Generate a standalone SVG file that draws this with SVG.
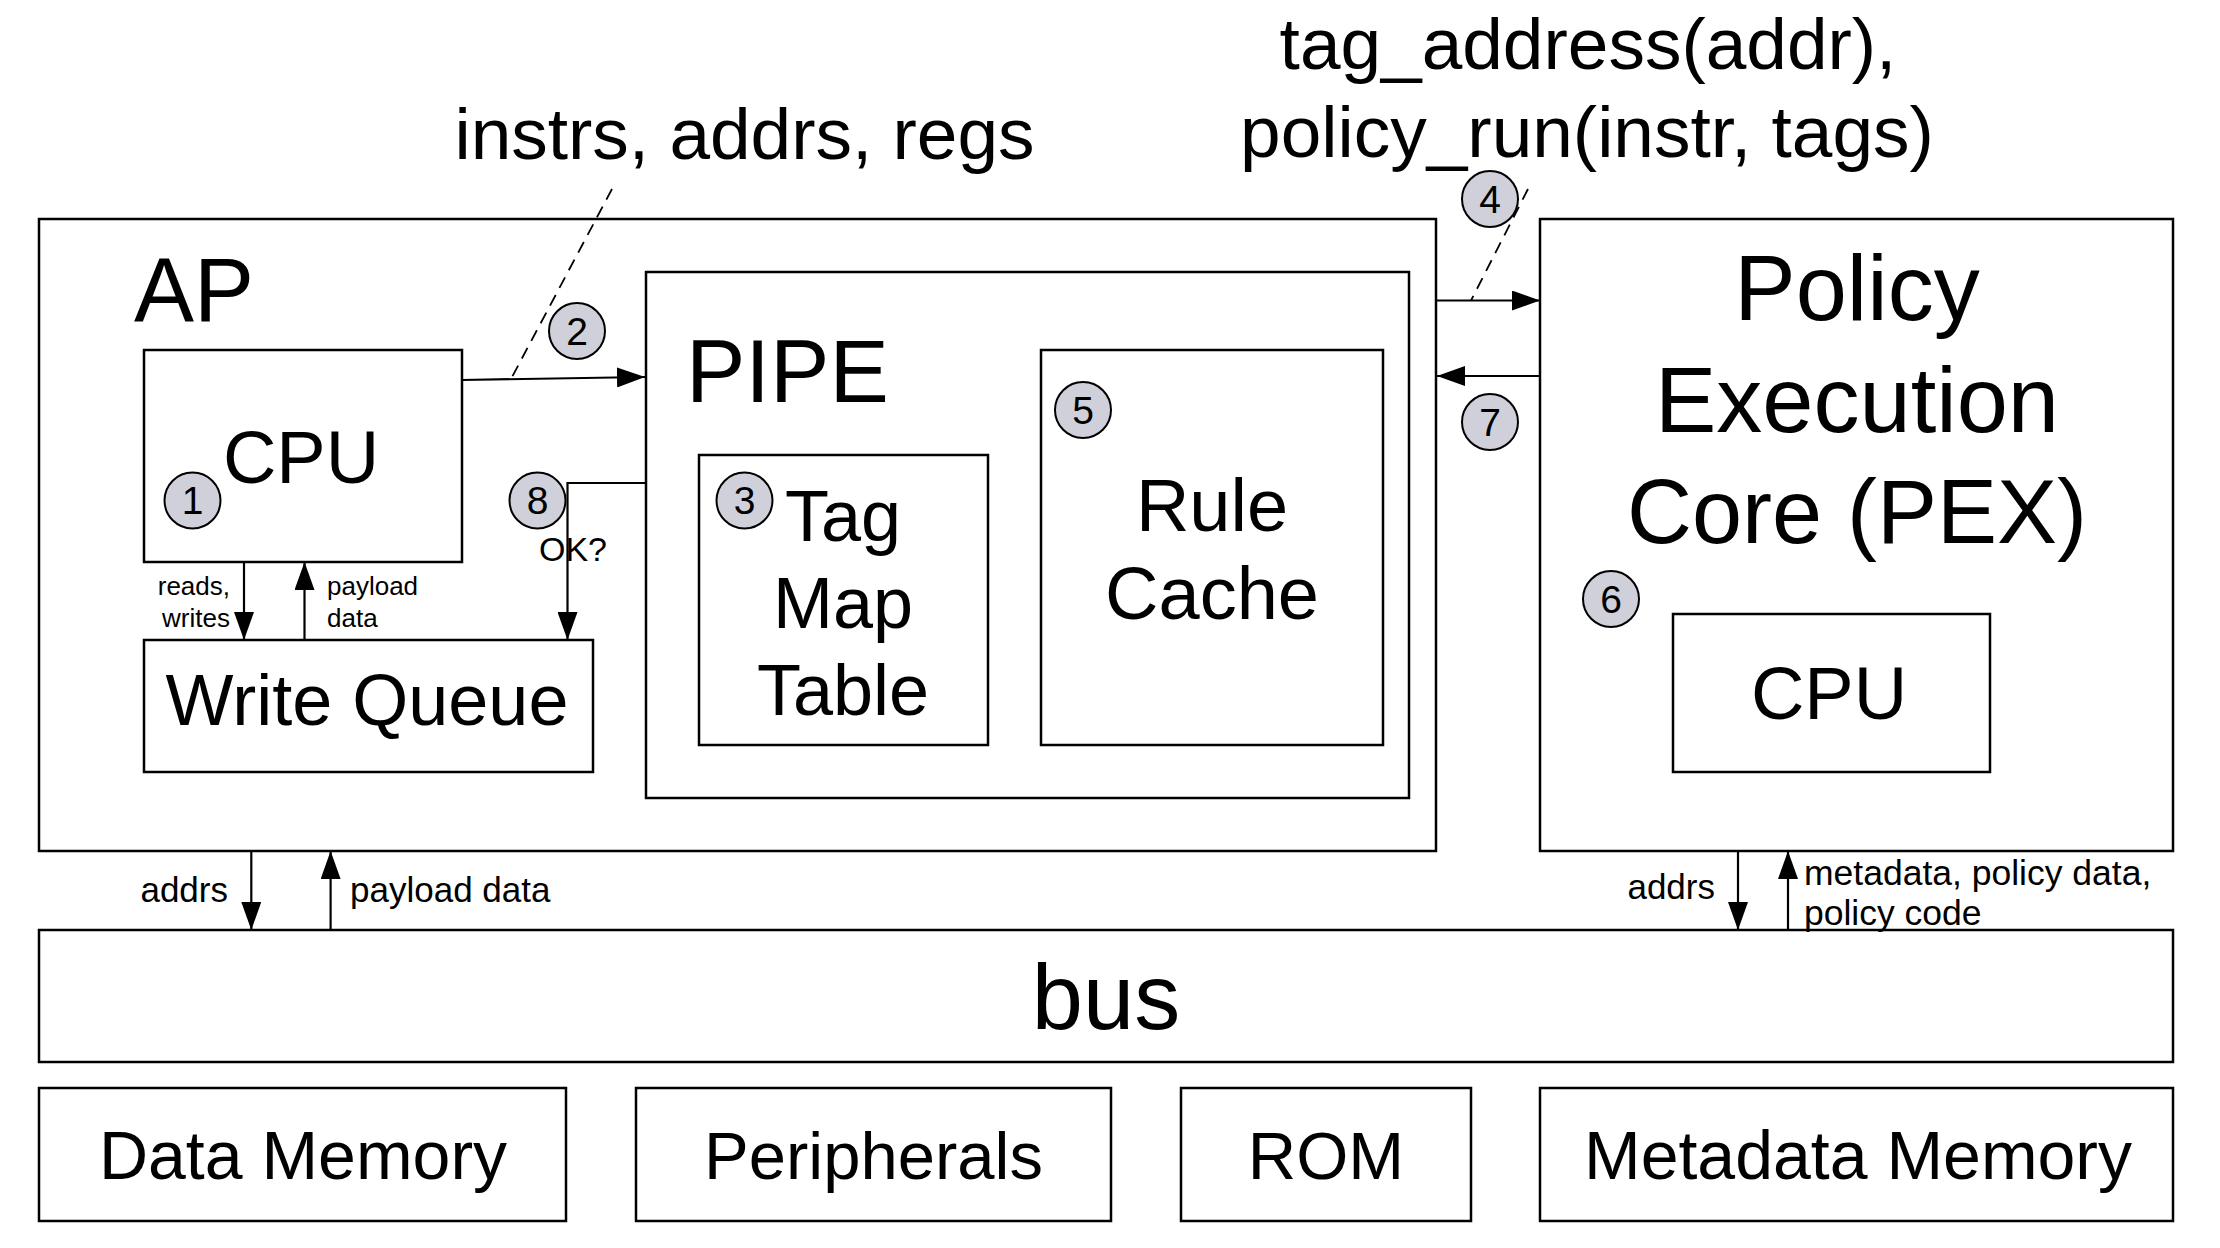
<svg xmlns="http://www.w3.org/2000/svg" width="2220" height="1248" viewBox="0 0 2220 1248">
<style>
.box{fill:none;stroke:#000;stroke-width:2.5}
.c{fill:#cfd0d9;stroke:#000;stroke-width:2}
.t{font-family:"Liberation Sans",Arial,Helvetica,sans-serif;fill:#000}
.m{text-anchor:middle}
.e{text-anchor:end}
.n{font-size:39px;text-anchor:middle}
.ln{stroke:#000;stroke-width:2.2;fill:none}
.ar{marker-end:url(#ah)}
.dash{stroke:#000;stroke-width:1.8;stroke-dasharray:12 8;fill:none}
</style>
<defs>
<marker id="ah" markerUnits="userSpaceOnUse" markerWidth="28" markerHeight="20" refX="28" refY="10" orient="auto">
<path d="M0,0 L28,10 L0,20 z" fill="#000"/>
</marker>
</defs>
<rect width="2220" height="1248" fill="#fff"/>

<g id="ap">
<rect class="box" x="39" y="219" width="1397" height="632"/>
<text class="t" x="134" y="321" font-size="90">AP</text>
</g>
<g id="ap-cpu">
<rect class="box" x="144" y="350" width="318" height="212"/>
<text class="t m" x="301" y="483" font-size="74">CPU</text>
<circle class="c" cx="192.5" cy="500.5" r="28"/>
<text class="t n" x="192.5" y="514">1</text>
</g>
<g id="write-queue">
<rect class="box" x="144" y="640" width="449" height="132"/>
<text class="t m" x="367" y="725" font-size="72">Write Queue</text>
</g>
<g id="pipe">
<rect class="box" x="646" y="272" width="763" height="526"/>
<text class="t" x="686" y="402" font-size="89">PIPE</text>
</g>
<g id="tag-map-table">
<rect class="box" x="699" y="455" width="289" height="290"/>
<text class="t m" x="843" y="541" font-size="72">Tag</text>
<text class="t m" x="843" y="628" font-size="72">Map</text>
<text class="t m" x="843" y="715" font-size="72">Table</text>
<circle class="c" cx="744.5" cy="500.5" r="28"/>
<text class="t n" x="744.5" y="514">3</text>
</g>
<g id="rule-cache">
<rect class="box" x="1041" y="350" width="342" height="395"/>
<text class="t m" x="1212" y="531" font-size="74">Rule</text>
<text class="t m" x="1212" y="619" font-size="74">Cache</text>
<circle class="c" cx="1083" cy="410" r="28"/>
<text class="t n" x="1083" y="423.5">5</text>
</g>
<g id="pex">
<rect class="box" x="1540" y="219" width="633" height="632"/>
<text class="t m" x="1857" y="320" font-size="92">Policy</text>
<text class="t m" x="1857" y="432" font-size="92">Execution</text>
<text class="t m" x="1857" y="543" font-size="90">Core (PEX)</text>
<circle class="c" cx="1611" cy="599" r="28"/>
<text class="t n" x="1611" y="612.5">6</text>
</g>
<g id="pex-cpu">
<rect class="box" x="1673" y="614" width="317" height="158"/>
<text class="t m" x="1829" y="719" font-size="74">CPU</text>
</g>
<g id="bus">
<rect class="box" x="39" y="930" width="2134" height="132"/>
<text class="t m" x="1106" y="1029" font-size="92">bus</text>
</g>
<g id="data-memory">
<rect class="box" x="39" y="1088" width="527" height="133"/>
<text class="t m" x="303" y="1179" font-size="68">Data Memory</text>
</g>
<g id="peripherals">
<rect class="box" x="636" y="1088" width="475" height="133"/>
<text class="t m" x="873.5" y="1179" font-size="67">Peripherals</text>
</g>
<g id="rom">
<rect class="box" x="1181" y="1088" width="290" height="133"/>
<text class="t m" x="1326" y="1179" font-size="67">ROM</text>
</g>
<g id="metadata-memory">
<rect class="box" x="1540" y="1088" width="633" height="133"/>
<text class="t m" x="1858" y="1179" font-size="68">Metadata Memory</text>
</g>

<g id="connectors">
<line class="ln ar" x1="462" y1="380" x2="645" y2="377"/>
<line class="dash" x1="612" y1="189" x2="511" y2="379"/>
<polyline class="ln ar" points="646,483 567.5,483 567.5,640"/>
<line class="ln ar" x1="244" y1="562" x2="244" y2="640"/>
<line class="ln ar" x1="304.5" y1="640" x2="304.5" y2="562"/>
<line class="ln ar" x1="1436" y1="300.5" x2="1540" y2="300.5"/>
<line class="dash" x1="1528" y1="189" x2="1471" y2="300.5"/>
<line class="ln ar" x1="1540" y1="376" x2="1437" y2="376"/>
<line class="ln ar" x1="251.3" y1="851" x2="251.3" y2="930"/>
<line class="ln ar" x1="330.6" y1="930" x2="330.6" y2="851"/>
<line class="ln ar" x1="1738" y1="851" x2="1738" y2="930"/>
<line class="ln ar" x1="1788" y1="930" x2="1788" y2="851"/>
</g>

<g id="markers">
<circle class="c" cx="577" cy="331" r="28"/>
<text class="t n" x="577" y="344.5">2</text>
<circle class="c" cx="1490" cy="199" r="28"/>
<text class="t n" x="1490" y="212.5">4</text>
<circle class="c" cx="1490" cy="422" r="28"/>
<text class="t n" x="1490" y="435.5">7</text>
<circle class="c" cx="537.5" cy="500.5" r="28"/>
<text class="t n" x="537.5" y="514">8</text>
</g>

<g id="labels">
<text class="t m" x="744.5" y="159" font-size="73">instrs, addrs, regs</text>
<text class="t m" x="1588" y="69" font-size="73">tag_address(addr),</text>
<text class="t m" x="1587" y="157" font-size="73">policy_run(instr, tags)</text>
<text class="t e" x="230" y="595" font-size="26">reads,</text>
<text class="t e" x="230" y="627" font-size="26">writes</text>
<text class="t" x="327" y="595" font-size="26">payload</text>
<text class="t" x="327" y="627" font-size="26">data</text>
<text class="t" x="539" y="561" font-size="34">OK?</text>
<text class="t e" x="228" y="902" font-size="35">addrs</text>
<text class="t" x="350" y="902" font-size="35">payload data</text>
<text class="t e" x="1715" y="899" font-size="35">addrs</text>
<text class="t" x="1804" y="885" font-size="35.5">metadata, policy data,</text>
<text class="t" x="1804" y="925" font-size="35.5">policy code</text>
</g>
</svg>
